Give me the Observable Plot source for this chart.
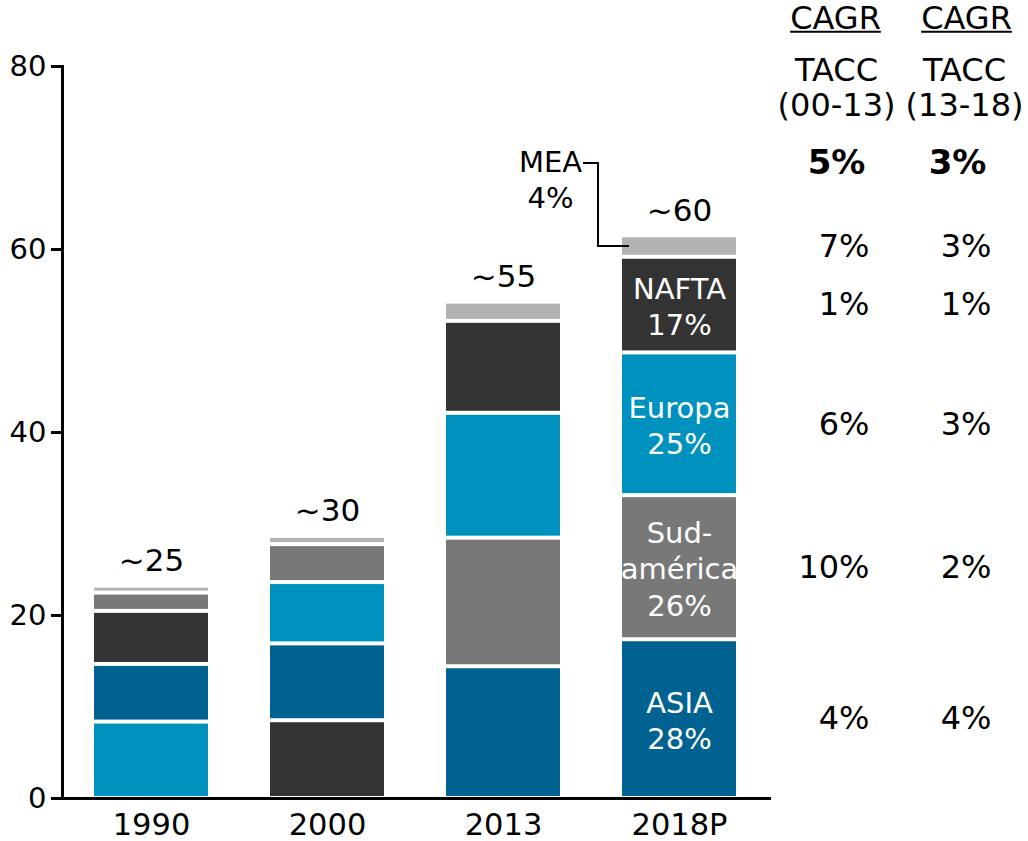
<!DOCTYPE html>
<html><head><meta charset="utf-8">
<script src="https://cdn.jsdelivr.net/npm/d3@7"></script>
<script src="https://cdn.jsdelivr.net/npm/@observablehq/plot@0.6"></script>
<style>
body{margin:0;background:#fff;}
svg{font-family:"DejaVu Sans", Verdana, sans-serif;}
</style>
</head><body><div id="chart"></div>
<script>
const years = ["1990", "2000", "2013", "2018P"];
const regions = ["ASIA", "Sudamérica", "Europa", "NAFTA", "MEA"];
const asia = [6.3, 8.4, 14.4, 17.35];
const sudamerica = [2.0, 4.15, 14.05, 15.75];
const europa = [8.35, 6.7, 13.65, 15.6];
const nafta = [5.8, 8.5, 10.05, 10.45];
const mea = [0.75, 0.9, 2.1, 2.35];
const totalLabels = ["~25", "~30", "~55", "~60"];
const shareLabels2018 = ["ASIA\n28%", "Sud-\namérica\n26%", "Europa\n25%", "NAFTA\n17%", "MEA\n4%"];
const cagr0013 = ["4%", "10%", "6%", "1%", "7%"];
const cagr1318 = ["4%", "2%", "3%", "1%", "3%"];
const cagrTotals = ["5%", "3%"];
const cagrHeaders = ["TACC\n(00-13)", "TACC\n(13-18)"];
const cagrTitle = "CAGR";
const yTicks = [0, 20, 40, 60, 80];
const colors = ["#006291", "#787878", "#0092be", "#333333", "#b2b2b2"];

const series = [asia, sudamerica, europa, nafta, mea];
const data = [];
regions.forEach((r, ri) => {
  years.forEach((y, yi) => {
    data.push({
      region: r, year: y, value: series[ri][yi],
      total: totalLabels[yi],
      share: shareLabels2018[ri],
      c1: cagr0013[ri], c2: cagr1318[ri]
    });
  });
});

const FS = 29;
const FR = 32;
const stackOpts = {x: "year", y: "value", z: "region", order: "value", reverse: true};
const last = years[years.length - 1];
const hdr = {frameAnchor: "top-right", textAnchor: "middle", lineAnchor: "middle", fontSize: FR};

const plot = Plot.plot({
  width: 1028, height: 841,
  marginTop: 66, marginLeft: 62, marginRight: 259, marginBottom: 43,
  x: {domain: years, paddingInner: 0.35, paddingOuter: 0.175, align: 0.5},
  y: {domain: [0, 80]},
  color: {domain: regions, range: colors},
  style: {fontFamily: "'DejaVu Sans', Verdana, sans-serif", fontSize: FS + "px", color: "black", background: "white"},
  marks: [
    Plot.barY(data, Plot.stackY({...stackOpts, fill: "region", insetTop: 2, insetBottom: 2})),
    Plot.text(data, Plot.groupX({y: "sum", text: "first"}, {x: "year", y: "value", text: "total", dy: -25, fontSize: 31})),
    Plot.text(data, Plot.stackY({...stackOpts,
      text: d => d.year === last && d.region !== "MEA" ? d.share : null,
      fill: "white", fontSize: FS, lineHeight: 1.25})),
    Plot.text(data, Plot.stackY({...stackOpts,
      text: d => d.year === last && d.region === "MEA" ? d.share : null,
      fill: "black", fontSize: FS, lineHeight: 1.25, dx: -129, dy: -68})),
    Plot.text(data, Plot.stackY({...stackOpts,
      text: d => d.year === last ? d.c1 : null,
      fontSize: FR, textAnchor: "end", dx: 190})),
    Plot.text(data, Plot.stackY({...stackOpts,
      text: d => d.year === last ? d.c2 : null,
      fontSize: FR, textAnchor: "end", dx: 312})),
    Plot.text([cagrTitle], {...hdr, text: d => d, dx: 66, dy: -48}),
    Plot.text([cagrTitle], {...hdr, text: d => d, dx: 197, dy: -48}),
    Plot.text([cagrHeaders[0]], {...hdr, text: d => d, dx: 67, dy: 21, lineHeight: 1.1}),
    Plot.text([cagrHeaders[1]], {...hdr, text: d => d, dx: 195, dy: 21, lineHeight: 1.1}),
    Plot.text([cagrTotals[0]], {...hdr, text: d => d, dx: 67, dy: 97, fontWeight: "bold", fontSize: 34}),
    Plot.text([cagrTotals[1]], {...hdr, text: d => d, dx: 188, dy: 97, fontWeight: "bold", fontSize: 34}),
    Plot.axisY({ticks: yTicks, tickSize: 11, tickPadding: 5, strokeWidth: 3, fontSize: FS, label: null}),
    Plot.axisX({tickSize: 0, tickPadding: 15, fontSize: 30.5, label: null}),
    Plot.frame({anchor: "left", strokeWidth: 3}),
    Plot.frame({anchor: "bottom", strokeWidth: 3})
  ]
});

document.getElementById("chart").appendChild(plot);

// underline the CAGR headers, measured from the rendered text (same local frame)
Array.from(plot.querySelectorAll("text"))
  .filter(t => t.textContent === cagrTitle)
  .forEach(t => {
    const b = t.getBBox();
    const yy = b.y + b.height - 5;
    const line = d3.select(t.parentNode).append("line")
      .attr("x1", b.x).attr("x2", b.x + b.width)
      .attr("y1", yy).attr("y2", yy)
      .attr("stroke", "black").attr("stroke-width", 2);
    const tr = t.getAttribute("transform");
    if (tr) line.attr("transform", tr);
  });

// MEA connector built from the library's own scales
const xs = plot.scale("x"), ys = plot.scale("y");
const bs = xs.apply(last);
const yi = years.length - 1;
const meaMid = asia[yi] + sudamerica[yi] + europa[yi] + nafta[yi] + mea[yi] / 2;
const yMid = ys.apply(meaMid);
d3.select(plot).append("path")
  .attr("d", `M${bs - 39},${yMid - 83}H${bs - 24}V${yMid}H${bs + 7}`)
  .attr("fill", "none").attr("stroke", "black").attr("stroke-width", 2);
</script>
</body></html>
